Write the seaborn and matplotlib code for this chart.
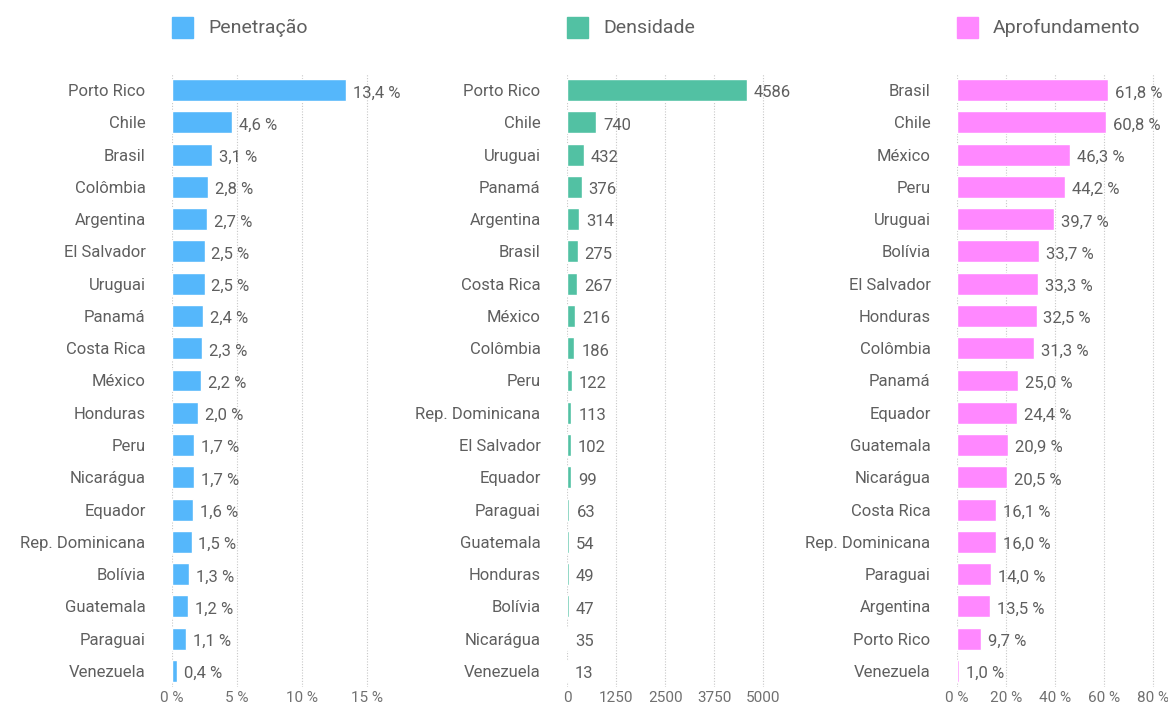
import numpy as np
import pandas as pd
import matplotlib.pyplot as plt
import matplotlib.patches as mpatches
import seaborn as sns

# ── dados ─────────────────────────────────────────────
pen_paises = ['Porto Rico', 'Chile', 'Brasil', 'Colômbia', 'Argentina', 'El Salvador',
              'Uruguai', 'Panamá', 'Costa Rica', 'México', 'Honduras', 'Peru',
              'Nicarágua', 'Equador', 'Rep. Dominicana', 'Bolívia', 'Guatemala',
              'Paraguai', 'Venezuela']
pen_valores = [13.4, 4.6, 3.1, 2.8, 2.7, 2.5, 2.5, 2.4, 2.3, 2.2, 2.0, 1.7, 1.7, 1.6,
               1.5, 1.3, 1.2, 1.1, 0.4]

den_paises = ['Porto Rico', 'Chile', 'Uruguai', 'Panamá', 'Argentina', 'Brasil',
              'Costa Rica', 'México', 'Colômbia', 'Peru', 'Rep. Dominicana',
              'El Salvador', 'Equador', 'Paraguai', 'Guatemala', 'Honduras',
              'Bolívia', 'Nicarágua', 'Venezuela']
den_valores = [4586, 740, 432, 376, 314, 275, 267, 216, 186, 122, 113, 102, 99, 63,
               54, 49, 47, 35, 13]

apr_paises = ['Brasil', 'Chile', 'México', 'Peru', 'Uruguai', 'Bolívia', 'El Salvador',
              'Honduras', 'Colômbia', 'Panamá', 'Equador', 'Guatemala', 'Nicarágua',
              'Costa Rica', 'Rep. Dominicana', 'Paraguai', 'Argentina', 'Porto Rico',
              'Venezuela']
apr_valores = [61.8, 60.8, 46.3, 44.2, 39.7, 33.7, 33.3, 32.5, 31.3, 25.0, 24.4, 20.9,
               20.5, 16.1, 16.0, 14.0, 13.5, 9.7, 1.0]

pen_ticks = [0, 5, 10, 15]
den_ticks = [0, 1250, 2500, 3750, 5000]
apr_ticks = [0, 20, 40, 60, 80]

sns.set_theme(style='white')
plt.rcParams['font.family'] = ['Roboto', 'DejaVu Sans']

texto = '#5f5f5f'

def pct(v):
    return f'{v:.1f} %'.replace('.', ',')

paineis = [
    ('Penetração', pen_paises, pen_valores, '#55b7fb', pen_ticks, 16.0, 172, pct,
     lambda t: f'{t} %'),
    ('Densidade', den_paises, den_valores, '#52c1a3', den_ticks, 5300, 567,
     lambda v: f'{v}', lambda t: f'{t}'),
    ('Aprofundamento', apr_paises, apr_valores, '#ff88ff', apr_ticks, 85.0, 957, pct,
     lambda t: f'{t} %'),
]

W, H = 1168, 704
topo, base = 74, 687
fig = plt.figure(figsize=(W / 100, H / 100), dpi=100)

for nome, paises, valores, cor, ticks, xmax, x0, fmt, tfmt in paineis:
    ax = fig.add_axes([x0 / W, 1 - base / H, 208 / W, (base - topo) / H])
    df = pd.DataFrame({'pais': paises, 'valor': valores})
    sns.barplot(data=df, x='valor', y='pais', order=paises, color=cor,
                saturation=1, width=0.68, ax=ax)
    ax.set_xlim(0, xmax)
    ax.set_ylim(len(paises) - 0.5, -0.5)
    ax.set_xticks(ticks)
    ax.set_xticklabels([tfmt(t) for t in ticks])
    ax.set_xlabel('')
    ax.set_ylabel('')
    for s in ax.spines.values():
        s.set_visible(False)
    ax.grid(axis='x', color='#c8c8c8', linestyle=(0, (1, 1.5)), linewidth=0.8)
    ax.set_axisbelow(True)
    ax.tick_params(axis='y', length=0, pad=19, labelsize=12, labelcolor=texto)
    ax.tick_params(axis='x', length=0, pad=3, labelsize=11, labelcolor='#707070')
    for i, v in enumerate(valores):
        ax.annotate(fmt(v), (v, i), xytext=(5, -2), textcoords='offset points',
                    va='center', ha='left', fontsize=12, color=texto)

    # legenda
    fig.add_artist(mpatches.Rectangle((x0 / W, 1 - 38 / H), 21 / W, 21 / H,
                                      transform=fig.transFigure, color=cor))
    fig.text((x0 + 36) / W, 1 - 28 / H, nome, va='center', ha='left',
             fontsize=14, color=texto)

fig.savefig('out.png', dpi=100)
